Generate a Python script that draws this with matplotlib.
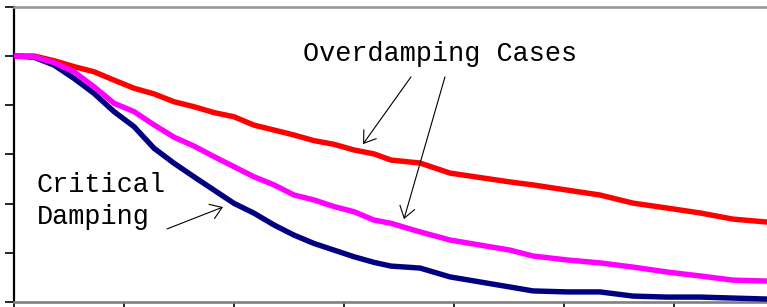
import matplotlib
matplotlib.use("Agg")
import matplotlib.pyplot as plt

# ---- data ----
t = [0.0, 0.182, 0.364, 0.545, 0.727, 0.909, 1.091, 1.273, 1.455, 1.636,
     1.818, 2.0, 2.182, 2.364, 2.545, 2.727, 2.909, 3.091, 3.273, 3.427,
     3.691, 3.964, 4.509, 4.718, 5.027, 5.327, 5.627, 5.936, 6.236, 6.536, 6.845]

over_high = [1.0, 1.0, 0.981, 0.957, 0.936, 0.902, 0.869, 0.846, 0.814, 0.794,
             0.770, 0.753, 0.719, 0.699, 0.679, 0.656, 0.641, 0.618, 0.602, 0.577,
             0.565, 0.524, 0.488, 0.476, 0.455, 0.435, 0.402, 0.382, 0.362, 0.337, 0.325]

over_low = [1.0, 0.997, 0.973, 0.936, 0.875, 0.808, 0.774, 0.720, 0.670, 0.634,
            0.591, 0.550, 0.509, 0.476, 0.435, 0.415, 0.388, 0.367, 0.333, 0.320,
            0.285, 0.252, 0.211, 0.187, 0.171, 0.159, 0.142, 0.122, 0.106, 0.089, 0.085]

critical = [1.0, 0.995, 0.963, 0.909, 0.848, 0.774, 0.713, 0.625, 0.564, 0.509,
            0.455, 0.401, 0.361, 0.313, 0.272, 0.238, 0.211, 0.184, 0.161, 0.146,
            0.138, 0.102, 0.061, 0.045, 0.041, 0.041, 0.024, 0.020, 0.020, 0.016, 0.012]

x_ticks = [0, 1, 2, 3, 4, 5, 6, 7]
y_ticks = [0.0, 0.2, 0.4, 0.6, 0.8, 1.0, 1.2]

W, H = 767, 307
fig = plt.figure(figsize=(W / 100, H / 100), dpi=100)
ax = fig.add_axes([14 / W, 5 / H, 770 / W, 295.2 / H])

font = dict(family="Liberation Mono", size=19.4, color="black")

ax.plot(t, critical, color="#000080", lw=3.9, solid_joinstyle="round", zorder=3)
ax.plot(t, over_high, color="#FF0000", lw=3.9, solid_joinstyle="round", zorder=3)
ax.plot(t, over_low, color="#FF00FF", lw=3.9, solid_joinstyle="round", zorder=4)

ax.set_xlim(0, 7)
ax.set_ylim(0, 1.2)
ax.set_xticks(x_ticks)
ax.set_yticks(y_ticks)
ax.set_xticklabels([])
ax.set_yticklabels([])
ax.tick_params(axis="y", direction="out", length=6.5, width=1.2, color="black")
ax.tick_params(axis="x", direction="out", length=5, width=1.2, color="black")

ax.spines["left"].set_color("black")
ax.spines["left"].set_linewidth(1.6)
ax.spines["top"].set_color("#999999")
ax.spines["top"].set_linewidth(1.9)
ax.spines["bottom"].set_color("#808080")
ax.spines["bottom"].set_linewidth(1.9)
ax.spines["right"].set_visible(False)

ax.text(2.627, 0.980, "Overdamping Cases", ha="left", va="baseline", **font)
ax.text(0.209, 0.447, "Critical", ha="left", va="baseline", **font)
ax.text(0.209, 0.317, "Damping", ha="left", va="baseline", **font)

ap = dict(arrowstyle="->,head_length=0.8,head_width=0.55", lw=0.8, color="black",
          shrinkA=0, shrinkB=0, mutation_scale=10)
ax.annotate("", xy=(3.173, 0.642), xytext=(3.609, 0.915), arrowprops=ap)
ax.annotate("", xy=(3.545, 0.337), xytext=(3.918, 0.915), arrowprops=ap)
ax.annotate("", xy=(1.900, 0.386), xytext=(1.391, 0.297), arrowprops=ap)

fig.savefig("out.png", dpi=100)
